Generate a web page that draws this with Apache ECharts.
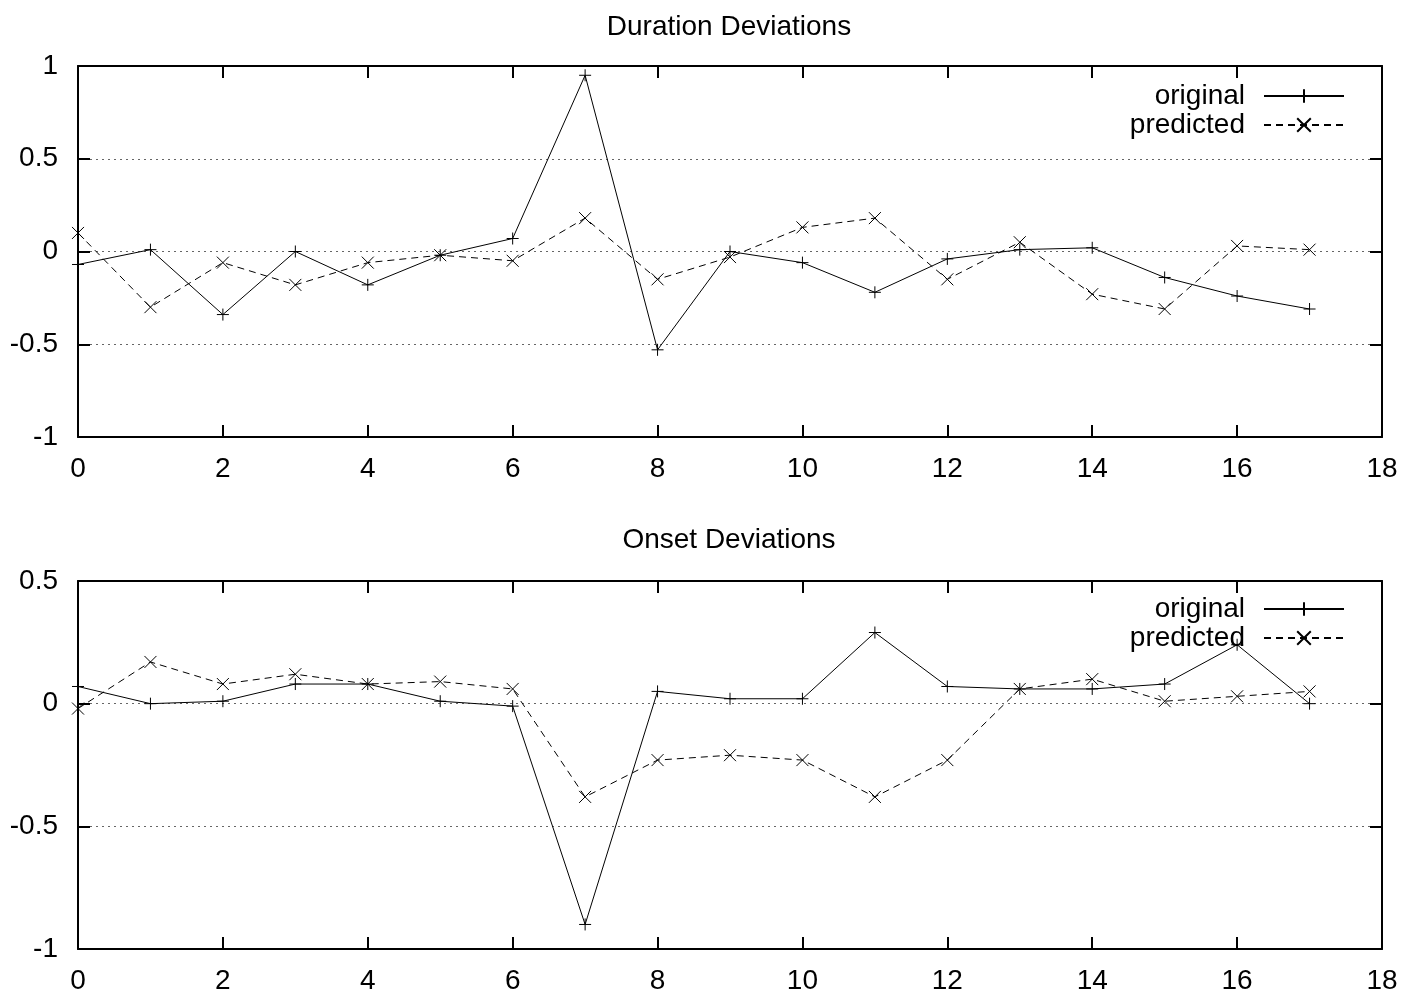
<!DOCTYPE html>
<html>
<head>
<meta charset="utf-8">
<script src="https://cdn.jsdelivr.net/npm/echarts@6/dist/echarts.min.js"></script>
<style>
  html, body { margin: 0; padding: 0; background: #fff; }
  #chart { width: 1403px; height: 995px; }
</style>
</head>
<body>
<div id="chart"></div>
<script>
var xs = [0, 1, 2, 3, 4, 5, 6, 7, 8, 9, 10, 11, 12, 13, 14, 15, 16, 17];

var durationOriginal = [-0.07, 0.01, -0.34, 0.0, -0.18, -0.02, 0.07, 0.95, -0.53, 0.0, -0.06, -0.22, -0.04, 0.01, 0.02, -0.14, -0.24, -0.31];
var durationPredicted = [0.10, -0.30, -0.06, -0.18, -0.06, -0.02, -0.05, 0.18, -0.15, -0.03, 0.13, 0.18, -0.15, 0.05, -0.23, -0.31, 0.03, 0.01];

var onsetOriginal = [0.07, 0.0, 0.01, 0.08, 0.08, 0.01, -0.01, -0.90, 0.05, 0.02, 0.02, 0.29, 0.07, 0.06, 0.06, 0.08, 0.24, 0.0];
var onsetPredicted = [-0.02, 0.17, 0.08, 0.12, 0.08, 0.09, 0.06, -0.38, -0.23, -0.21, -0.23, -0.38, -0.23, 0.06, 0.10, 0.01, 0.03, 0.05];

var titles = ['Duration Deviations', 'Onset Deviations'];
var seriesNames = ['original', 'predicted'];

function pairs(ys) {
    return xs.map(function (x, i) { return [x, ys[i]]; });
}

var font = 'Liberation Sans, Arial, sans-serif';
var fs = 28;
var plusPath = 'path://M0,5L10,5M5,0L5,10';
var crossPath = 'path://M0,0L10,10M10,0L0,10';

var chart = echarts.init(document.getElementById('chart'));

function xAxisFor(gi, pos) {
    return {
        type: 'value', gridIndex: gi, position: pos,
        min: 0, max: 18, interval: 2,
        axisLine: { show: true, onZero: false, lineStyle: { color: '#000', width: 2 } },
        axisTick: { show: true, inside: true, length: 12, lineStyle: { color: '#000', width: 2 } },
        axisLabel: { show: pos === 'bottom', color: '#000', fontSize: fs, fontFamily: font, margin: 18 },
        splitLine: { show: false }
    };
}

function yAxisFor(gi, pos, min) {
    return {
        type: 'value', gridIndex: gi, position: pos,
        min: min, max: gi === 0 ? 1 : 0.5, interval: 0.5,
        axisLine: { show: true, onZero: false, lineStyle: { color: '#000', width: 2 } },
        axisTick: { show: true, inside: true, length: 12, lineStyle: { color: '#000', width: 2 } },
        axisLabel: { show: pos === 'left', color: '#000', fontSize: fs, fontFamily: font, margin: 20 },
        splitLine: { show: pos === 'left', lineStyle: { color: '#666', type: [2, 4], width: 1 } }
    };
}

function lineSeries(name, ys, gi, dashed) {
    return {
        name: name, type: 'line',
        xAxisIndex: gi * 2, yAxisIndex: gi * 2,
        data: pairs(ys),
        symbol: dashed ? crossPath : plusPath,
        symbolSize: 12,
        showAllSymbol: true,
        lineStyle: { color: '#000', width: 1, type: dashed ? [7, 5] : 'solid' },
        itemStyle: { color: 'rgba(0,0,0,0)', borderColor: '#000', borderWidth: 1 },
        emphasis: { disabled: true },
        animation: false,
        z: dashed ? 3 : 4
    };
}

function legendFor(name, top) {
    return {
        data: [name], right: 58, top: top, padding: 0,
        itemWidth: 80, itemHeight: 17, align: 'right',
        selectedMode: false,
        textStyle: { color: '#000', fontSize: fs, fontFamily: font, padding: [0, 14, 0, 0] }
    };
}

var option = {
    backgroundColor: '#fff',
    animation: false,
    title: [
        { text: titles[0], left: 724, textAlign: 'center', top: 8, textStyle: { color: '#000', fontSize: fs, fontWeight: 'normal', fontFamily: font } },
        { text: titles[1], left: 724, textAlign: 'center', top: 521, textStyle: { color: '#000', fontSize: fs, fontWeight: 'normal', fontFamily: font } }
    ],
    grid: [
        { left: 78, right: 21, top: 66, height: 371 },
        { left: 78, right: 21, top: 581, height: 370 }
    ],
    legend: [
        legendFor(seriesNames[0], 82),
        legendFor(seriesNames[1], 111),
        legendFor(seriesNames[0], 595),
        legendFor(seriesNames[1], 624)
    ],
    xAxis: [
        xAxisFor(0, 'bottom'), xAxisFor(0, 'top'),
        xAxisFor(1, 'bottom'), xAxisFor(1, 'top')
    ],
    yAxis: [
        yAxisFor(0, 'left', -1), yAxisFor(0, 'right', -1),
        yAxisFor(1, 'left', -1), yAxisFor(1, 'right', -1)
    ],
    series: [
        lineSeries(seriesNames[0], durationOriginal, 0, false),
        lineSeries(seriesNames[1], durationPredicted, 0, true),
        lineSeries(seriesNames[0], onsetOriginal, 1, false),
        lineSeries(seriesNames[1], onsetPredicted, 1, true)
    ]
};

chart.setOption(option);
</script>
</body>
</html>
